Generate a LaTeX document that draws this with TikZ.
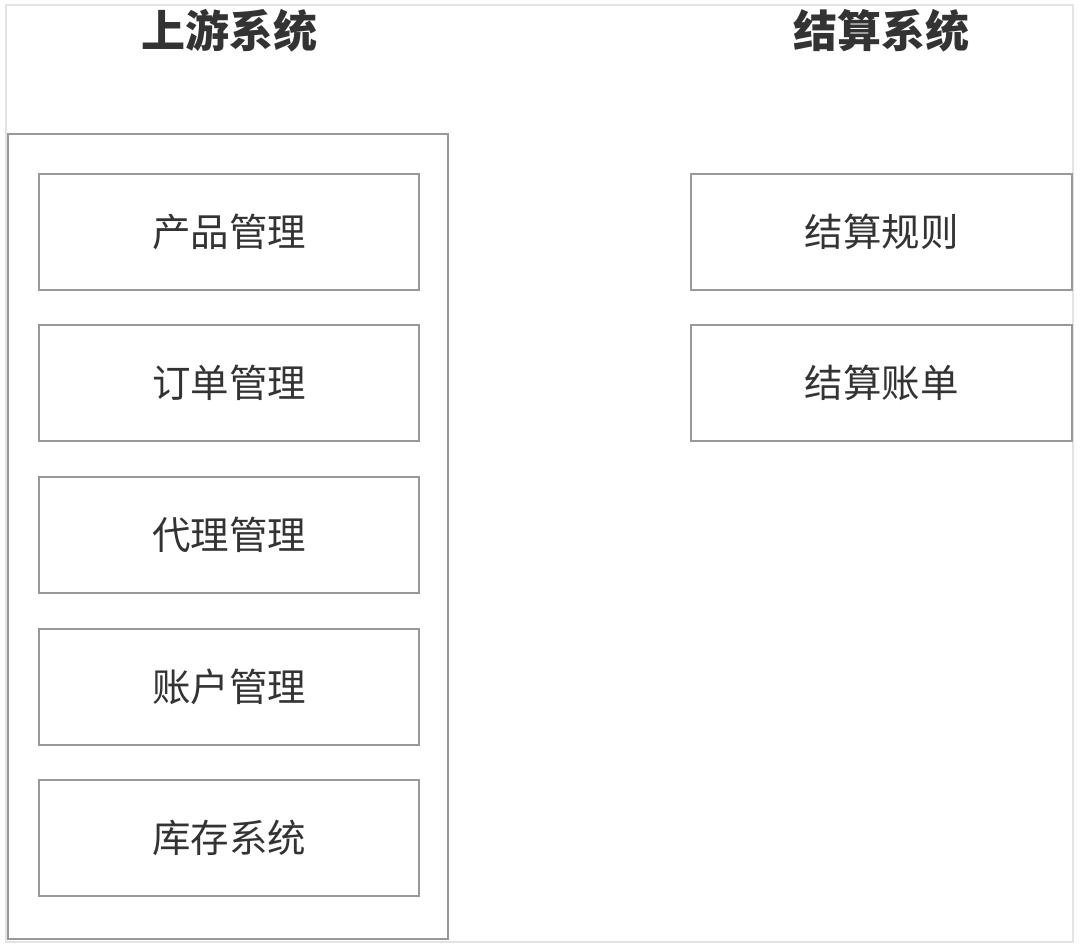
\documentclass[tikz,border=0pt]{standalone}
\usepackage{fontspec}
\setmainfont{Noto Sans CJK SC}
\newfontfamily\cjk{Noto Sans CJK SC}
\definecolor{boxline}{HTML}{999999}
\definecolor{frameline}{HTML}{E3E3E3}
\definecolor{txt}{HTML}{333333}
\begin{document}
\begin{tikzpicture}[x=1pt,y=-1pt,
  item/.style={draw=boxline,line width=1.3pt,minimum width=380pt,minimum height=116pt,inner sep=0pt,
    font=\cjk\fontsize{38.5}{42}\selectfont,text=txt},
  heading/.style={font=\cjk\bfseries\fontsize{44}{48}\selectfont,text=txt,inner sep=0pt}]
\useasboundingbox (0,0) rectangle (1080,946);
\draw[frameline,line width=2pt] (6,5) rectangle (1073,942);
\draw[boxline,line width=1.3pt] (8,134) rectangle (448,939);
\node[heading] (t1) at (229,31) {上游系统};
\node[heading] (t2) at (881,31) {结算系统};
\node[item] (a1) at (229,232) {产品管理};
\node[item] (a2) at (229,383) {订单管理};
\node[item] (a3) at (229,535) {代理管理};
\node[item] (a4) at (229,687) {账户管理};
\node[item] (a5) at (229,838) {库存系统};
\node[item,minimum width=381pt] (b1) at (881.5,232) {结算规则};
\node[item,minimum width=381pt] (b2) at (881.5,383) {结算账单};
\end{tikzpicture}
\end{document}
